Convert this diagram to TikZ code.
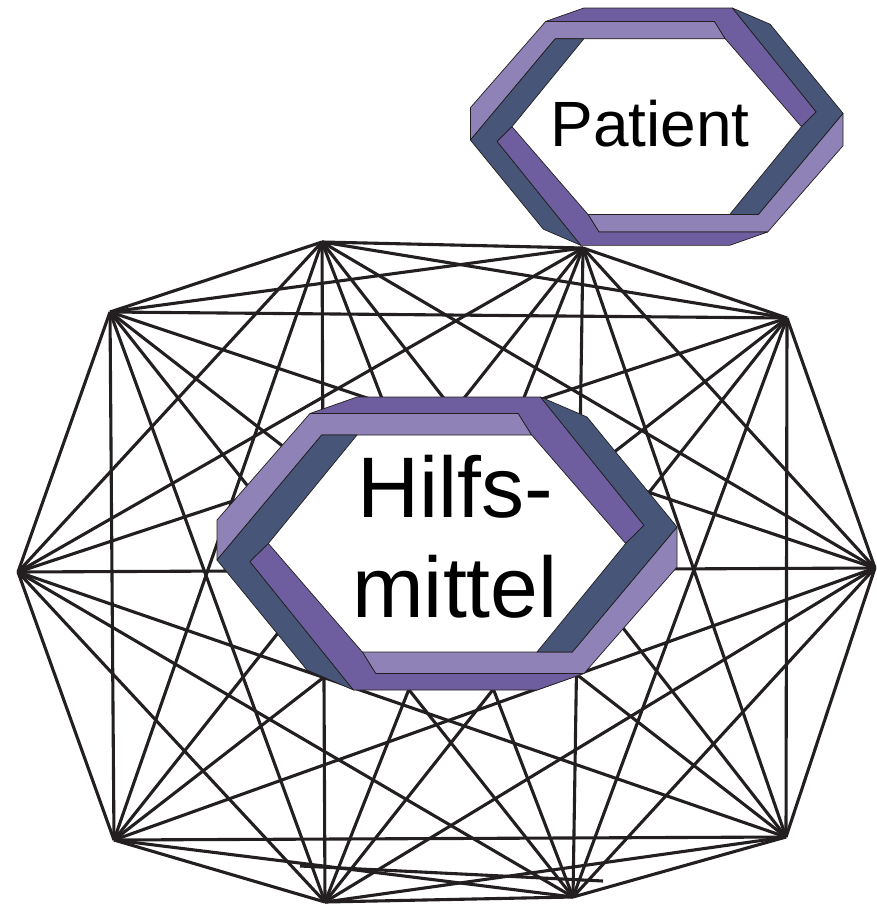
\documentclass[tikz,border=0pt]{standalone}
\usepackage{fontspec}
\setmainfont{Liberation Sans}
\usetikzlibrary{positioning}

\definecolor{faceLight}{RGB}{142,130,182}
\definecolor{faceMid}{RGB}{111,94,159}
\definecolor{faceDark}{RGB}{71,85,120}
\definecolor{ink}{RGB}{35,31,32}

\tikzset{
  link/.style={draw=ink,line width=3.1pt},
  face/.style={draw=ink,line width=0.7pt,line join=round},
}

% one half of the impossible hexagon, centre at origin, y up
\newcommand\hexhalf{%
  \filldraw[face,fill=faceLight](-137,130)--(71.3,130)--(84.7,108.5)--(-125.3,108.5)--(-230,-16.5)--(-230,23.5)--cycle;
  \filldraw[face,fill=faceMid](-137,130)--(-90,146.5)--(93.5,146.5)--(197,18.2)--(178.7,0)--(84.7,108.5)--(71.3,130)--cycle;
  \filldraw[face,fill=faceDark](-125.3,108.5)--(-90,108.5)--(-178.7,0)--(-197,-18.2)--(-93.5,-146.5)--(-140,-126.5)--(-230,-16.5)--cycle;
}
% #1 centre, #2 scale
\newcommand\hexring[2]{%
  \begin{scope}[shift={#1},scale=#2,yscale=-1]
    \fill[white](-90,108.5)--(84.7,108.5)--(178.7,0)--(90,-108.5)--(-84.7,-108.5)--(-178.7,0)--cycle;
    \hexhalf
    \begin{scope}[rotate=180]\hexhalf\end{scope}
  \end{scope}}

\begin{document}
\begin{tikzpicture}[x=1pt,y=-1pt,join=round] % Net of ten points
  \useasboundingbox (0,0) rectangle (877,905);
  \coordinate (v1) at (322,242);
  \coordinate (v2) at (583,248);
  \coordinate (v3) at (787,318);
  \coordinate (v4) at (875,568);
  \coordinate (v5) at (786,837);
  \coordinate (v6) at (573,897);
  \coordinate (v7) at (325,902);
  \coordinate (v8) at (114,840);
  \coordinate (v9) at (18,572);
  \coordinate (v10) at (110,312);
  \foreach \i in {1,...,9}{
    \pgfmathtruncatemacro\k{\i+1}
    \foreach \j in {\k,...,10} \draw[link](v\i)--(v\j);
  }
  \coordinate (s1) at (300,866);
  \coordinate (s2) at (603,881);
  \draw[link](s1)--(s2);
  % frames
  \hexring{(447,543.5)}{1}
  \hexring{(656.7,126.7)}{0.81}
  \node[font=\fontsize{86}{100}\selectfont,align=center,inner sep=0pt] (aid) at (455,537) {Hilfs-\\mittel};
  \node[font=\fontsize{64}{70}\selectfont,anchor=base,inner sep=0pt] (patient) at (650,146.7) {Patient};
\end{tikzpicture}
\end{document}
